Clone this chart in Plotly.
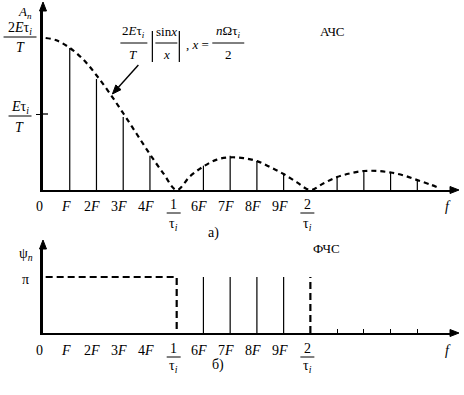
import math
import plotly.graph_objects as go

# ---------------- data ----------------
# harmonic numbers (in units of F) and amplitudes (in units of E*tau_i/T)
harm_n = [1, 2, 3, 4, 6, 7, 8, 9, 11, 12, 13, 14]
harm_amp = [1.87, 1.46, 0.96, 0.45, 0.32, 0.45, 0.38, 0.20, 0.18, 0.26, 0.24, 0.13]

# envelope |sin x / x| (x in units of F)
env_x = [0.1, 0.5, 1, 1.5, 2, 2.5, 3, 3.5, 4, 4.5, 5, 5.5, 6, 6.5, 7, 7.5, 8, 8.5,
         9, 9.5, 10, 10.5, 11, 11.5, 12, 12.5, 13, 13.5, 14, 14.5, 14.8]
env_y = [2.0, 1.97, 1.87, 1.72, 1.51, 1.27, 1.01, 0.74, 0.47, 0.22, 0.0, 0.18, 0.31,
         0.40, 0.43, 0.42, 0.38, 0.30, 0.21, 0.10, 0.0, 0.09, 0.17, 0.22, 0.25, 0.25,
         0.23, 0.19, 0.13, 0.07, 0.03]

# phase spectrum
PI = 3.14159
phase_dash_x = [0.1, 5, 5]
phase_dash_y = [PI, PI, 0]
phase_n = [6, 7, 8, 9]
phase_val = [PI, PI, PI, PI]
phase_dash2_n = [10]
phase_dash2_val = [PI]

# tick labels
tick_vals = [0, 1, 2, 3, 4, 6, 7, 8, 9]
tick_text = ["0", "<i>F</i>", "2<i>F</i>", "3<i>F</i>", "4<i>F</i>",
             "6<i>F</i>", "7<i>F</i>", "8<i>F</i>", "9<i>F</i>"]
frac_vals = [5, 10]
frac_num = ["1", "2"]
bottom_minor_ticks = [11, 12, 13, 14]

# ---------------- layout helpers ----------------
W, H = 464, 395
L, R = 42.5, 14
PW = W - L - R
FPX = 26.77
XMAX = PW / FPX

def px_x(px):
    return (px - L) / PW

def px_y(py):
    return 1 - py / H

FONT = "Liberation Serif"
BLK = "black"

fig = go.Figure()

# stems (top)
sx, sy = [], []
for n, a in zip(harm_n, harm_amp):
    sx += [n, n, None]
    sy += [0, a, None]
fig.add_trace(go.Scatter(x=sx, y=sy, mode="lines", line=dict(color=BLK, width=1.2),
                         xaxis="x", yaxis="y", hoverinfo="skip"))
# envelope
fig.add_trace(go.Scatter(x=env_x, y=env_y, mode="lines", line_shape="spline",
                         line=dict(color=BLK, width=2.2, dash="5px,4px"),
                         xaxis="x", yaxis="y", hoverinfo="skip"))

# phase (bottom)
fig.add_trace(go.Scatter(x=phase_dash_x, y=phase_dash_y, mode="lines",
                         line=dict(color=BLK, width=2.2, dash="7px,4px"),
                         xaxis="x2", yaxis="y2", hoverinfo="skip"))
px_, py_ = [], []
for n, v in zip(phase_n, phase_val):
    px_ += [n, n, None]
    py_ += [0, v, None]
fig.add_trace(go.Scatter(x=px_, y=py_, mode="lines", line=dict(color=BLK, width=1.2),
                         xaxis="x2", yaxis="y2", hoverinfo="skip"))
dx, dy = [], []
for n, v in zip(phase_dash2_n, phase_dash2_val):
    dx += [n, n, None]
    dy += [0, v, None]
fig.add_trace(go.Scatter(x=dx, y=dy, mode="lines",
                         line=dict(color=BLK, width=2.2, dash="7px,4px"),
                         xaxis="x2", yaxis="y2", hoverinfo="skip"))

top_y0, top_top, top_unit = 190, 10, 76.0
bot_y0, bot_top, bot_unit = 333, 249, 56.0 / PI

ax_common = dict(showgrid=False, zeroline=False, showline=True, linecolor=BLK,
                 linewidth=2, mirror=False, range=[0, XMAX], fixedrange=True)

fig.update_layout(
    width=W, height=H,
    margin=dict(l=L, r=R, t=0, b=0),
    paper_bgcolor="white", plot_bgcolor="white",
    showlegend=False,
    font=dict(family=FONT, color=BLK, size=14),
    xaxis=dict(anchor="y", showticklabels=False, ticks="", **ax_common),
    xaxis2=dict(anchor="y2", showticklabels=False, ticks="inside", ticklen=4,
                tickwidth=1.3, tickcolor=BLK, tickvals=bottom_minor_ticks, **ax_common),
    yaxis=dict(anchor="x", domain=[px_y(top_y0), px_y(top_top)],
               range=[0, (top_y0 - top_top) / top_unit],
               showgrid=False, zeroline=False, showline=True, linecolor=BLK, linewidth=2.5,
               tickvals=[1], ticks="outside", ticklen=4, tickwidth=1.3, tickcolor=BLK,
               showticklabels=False, fixedrange=True),
    yaxis2=dict(anchor="x2", domain=[px_y(bot_y0), px_y(bot_top)],
                range=[0, (bot_y0 - bot_top) / bot_unit],
                showgrid=False, zeroline=False, showline=True, linecolor=BLK, linewidth=2.5,
                showticklabels=False, ticks="", fixedrange=True),
)

ann = []
shapes = []

def text(s, x, y, size=14):
    ann.append(dict(text=s, x=px_x(x), y=px_y(y),
                    xref="paper", yref="paper", showarrow=False,
                    xanchor="center", yanchor="middle",
                    font=dict(family=FONT, size=size, color=BLK)))

def hbar(x1, x2, y, w=1):
    shapes.append(dict(type="line", xref="paper", yref="paper",
                       x0=px_x(x1), x1=px_x(x2), y0=px_y(y), y1=px_y(y),
                       line=dict(color=BLK, width=w)))

def vbar(x, y1, y2, w=1.2):
    shapes.append(dict(type="line", xref="paper", yref="paper",
                       x0=px_x(x), x1=px_x(x), y0=px_y(y1), y1=px_y(y2),
                       line=dict(color=BLK, width=w)))

def arrow(tipx, tipy, tailx, taily, width=2, head_len=9, head_half=3.5, draw_line=True):
    vx, vy = tipx - tailx, tipy - taily
    d = math.hypot(vx, vy)
    ux, uy = vx / d, vy / d
    bx, by = tipx - head_len * ux, tipy - head_len * uy
    p1 = (bx - head_half * uy, by + head_half * ux)
    p2 = (bx + head_half * uy, by - head_half * ux)
    if draw_line:
        shapes.append(dict(type="line", xref="paper", yref="paper",
                           x0=px_x(tailx), y0=px_y(taily), x1=px_x(bx), y1=px_y(by),
                           line=dict(color=BLK, width=width)))
    path = "M {} {} L {} {} L {} {} Z".format(
        px_x(tipx), px_y(tipy), px_x(p1[0]), px_y(p1[1]), px_x(p2[0]), px_y(p2[1]))
    shapes.append(dict(type="path", xref="paper", yref="paper", path=path,
                       fillcolor=BLK, line=dict(color=BLK, width=1)))

# axis arrows
arrow(L, 2, L, 12, draw_line=False)
arrow(459, top_y0, 449, top_y0, draw_line=False)
arrow(L, 240, L, 250, draw_line=False)
arrow(459, bot_y0, 449, bot_y0, draw_line=False)

# inner half of the E*tau/T tick crossing the y axis
hbar(L, L + 5, top_y0 - top_unit * 1, w=1.3)

TAU = "τ<sub><i>i</i></sub>"

# tick labels, both panels
for base_y, num_y, bar_y, den_y in [(206, 204, 213, 224), (350, 348, 357, 366)]:
    for v, t in zip(tick_vals, tick_text):
        text(t, L + v * FPX - 4, base_y)
    for v, t in zip(frac_vals, frac_num):
        cx = L + v * FPX - 3
        text(t, cx, num_y)
        hbar(cx - 7, cx + 7, bar_y)
        text(TAU, cx, den_y)
    text("<i>f</i>", 448, base_y)

# top y labels
text("<i>A<sub>n</sub></i>", 24, 13, size=13)
text("2<i>E</i>" + TAU, 19, 29)
hbar(3, 36, 37)
text("<i>T</i>", 20, 48)
text("<i>E</i>" + TAU, 19, 107)
hbar(8, 31, 116)
text("<i>T</i>", 19, 128)

# formula
text("2<i>E</i>" + TAU, 133, 32, size=13)
hbar(120, 147, 43)
text("<i>T</i>", 133, 54, size=13)
vbar(152, 31, 62)
vbar(179, 31, 62)
text("sin<i>x</i>", 166, 32, size=13)
hbar(155, 177, 43)
text("<i>x</i>", 166, 54, size=13)
text(", <i>x</i> =", 197, 44, size=13)
text("<i>n</i>Ωτ<sub><i>i</i></sub>", 228, 32, size=13)
hbar(212, 244, 43)
text("2", 228, 54, size=13)
arrow(112, 94, 138, 65, width=1.4, head_len=9, head_half=3.5)

text("АЧС", 332, 32, size=13)
text("а)", 213, 233)

# bottom labels
text("ψ<sub><i>n</i></sub>", 25, 254)
text("π", 25, 279)
text("ФЧС", 326, 248, size=13)
text("б)", 218, 365)

fig.update_layout(annotations=ann, shapes=shapes)
fig.write_html("out.html")
